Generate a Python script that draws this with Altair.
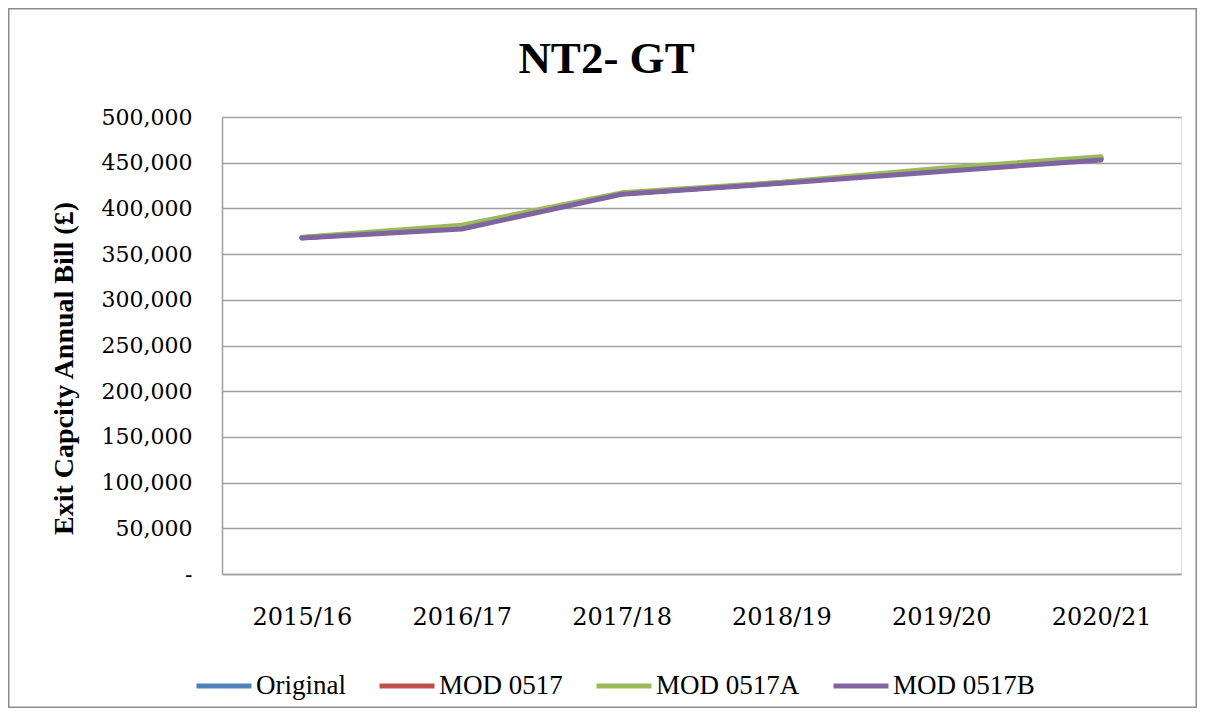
import altair as alt
import pandas as pd

years = ["2015/16", "2016/17", "2017/18", "2018/19", "2019/20", "2020/21"]
series_names = ["Original", "MOD 0517", "MOD 0517A", "MOD 0517B"]
original = [368000, 380000, 416000, 428000, 442000, 455000]
mod_0517 = [368000, 379500, 416000, 428000, 441500, 454500]
mod_0517a = [368500, 381500, 417000, 428500, 444000, 456500]
mod_0517b = [367500, 377500, 415500, 427500, 440500, 453000]
colors = ["#4F81BD", "#C0504D", "#9BBB59", "#8064A2"]
y_ticks = list(range(0, 500001, 50000))
chart_title = ["NT2- GT"]

values = [original, mod_0517, mod_0517a, mod_0517b]
rows = []
for name, vals in zip(series_names, values):
    for yr, v in zip(years, vals):
        rows.append({"year": yr, "series": name, "value": v})
df = pd.DataFrame(rows)

W, H = 959, 457
PL, PT, PR, PB = 214, 109, 16, 134

base = alt.Chart(df).encode(
    x=alt.X("year:N", sort=years, title=None,
            scale=alt.Scale(paddingInner=0, paddingOuter=0),
            axis=alt.Axis(labelFont="DejaVu Serif", labelFontSize=24, labelColor="#000000",
                          labelAngle=0, labelPadding=31, ticks=False, grid=False,
                          domainColor="#A0A0A0", domainWidth=1.5)),
    y=alt.Y("value:Q", title="Exit Capcity Annual Bill (£)",
            scale=alt.Scale(domain=[0, 500000], nice=False),
            axis=alt.Axis(values=y_ticks, labelFont="DejaVu Serif", labelFontSize=22,
                          labelColor="#000000", labelPadding=30, ticks=False,
                          labelExpr="datum.value == 0 ? '-\u00a0\u00a0' : format(datum.value, ',')",
                          grid=True, gridColor="#A0A0A0", gridWidth=1.5,
                          domainColor="#A0A0A0", domainWidth=1.5,
                          titleFont="Liberation Serif", titleFontSize=28, titleFontWeight="bold",
                          titleColor="#000000", titleAngle=270, titleBaseline="alphabetic",
                          titleX=-150, titleY=251, titleAlign="center")),
    color=alt.Color("series:N",
                    scale=alt.Scale(domain=series_names, range=colors),
                    legend=alt.Legend(title=None, orient="none", direction="horizontal",
                                      columns=4, legendX=-28, legendY=539, padding=0,
                                      symbolType="stroke", symbolSize=3025, symbolStrokeWidth=5,
                                      labelFont="Liberation Serif", labelFontSize=27,
                                      labelColor="#000000", labelOffset=2, columnPadding=23,
                                      labelLimit=400)),
)

lines = [
    base.transform_filter(alt.datum.series == s).mark_line(strokeWidth=5, strokeCap="round",
                                                           strokeJoin="round")
    for s in series_names
]

border = alt.Chart(pd.DataFrame({"a": [0]})).mark_rect(
    fill=None, stroke="#8C8C8C", strokeWidth=1.5
).encode(
    x=alt.value(-PL + 0.75), x2=alt.value(W + PR - 0.75),
    y=alt.value(-PT + 0.75), y2=alt.value(H + PB - 0.75),
)

title_text = alt.Chart(pd.DataFrame({"t": chart_title})).mark_text(
    font="Liberation Serif", fontSize=45, fontWeight="bold", color="#000000",
    align="center", baseline="alphabetic"
).encode(text="t:N", x=alt.value(384.5), y=alt.value(-44))

chart = alt.layer(border, *lines, title_text).properties(
    width=W, height=H,
    autosize=alt.AutoSizeParams(type="none"),
    padding={"left": PL, "top": PT, "right": PR, "bottom": PB},
).configure_view(stroke=None).configure(background="#FFFFFF")

chart.save("out.html", embed_options={"renderer": "svg", "actions": False})
